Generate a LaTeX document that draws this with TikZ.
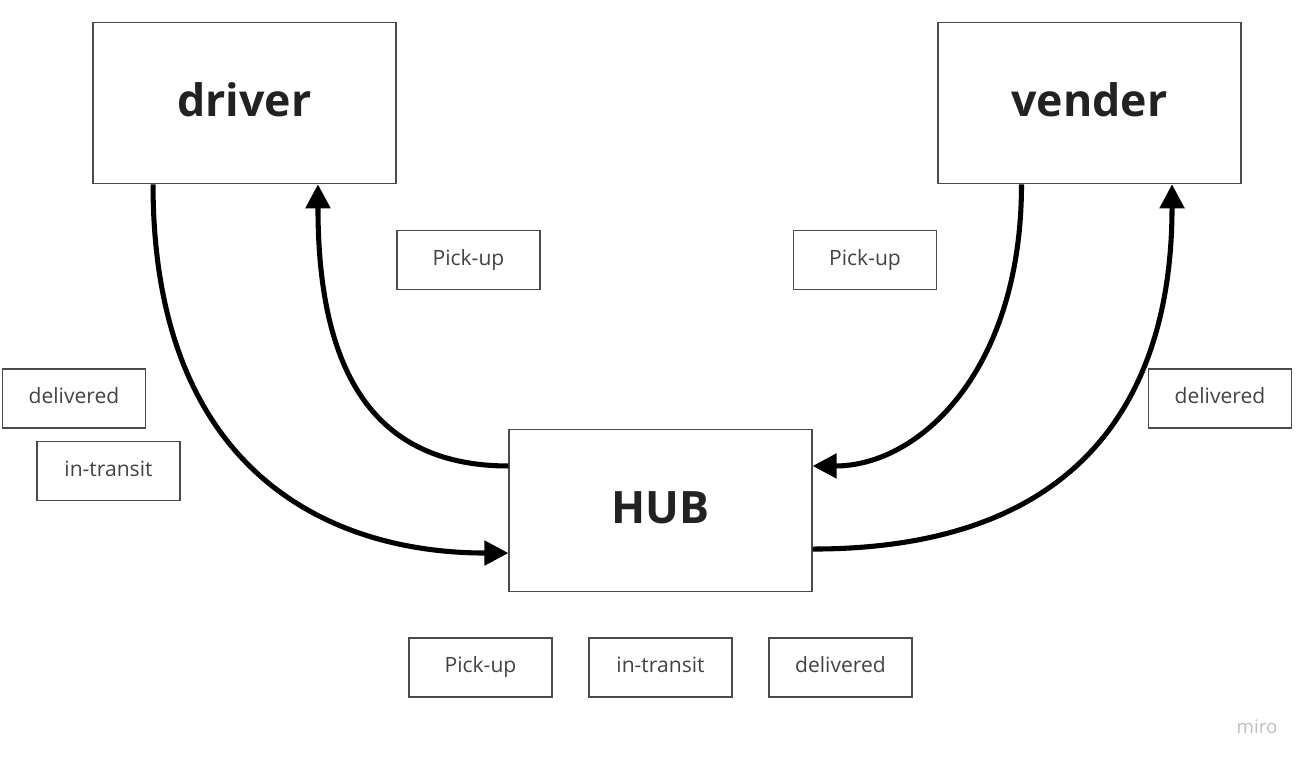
\documentclass[tikz,border=0pt]{standalone}
\usepackage{fontspec}
\setmainfont{Open Sans}
\usetikzlibrary{arrows.meta}
\definecolor{boxline}{HTML}{4A4A4A}
\definecolor{ink}{HTML}{222222}
\tikzset{
  bigbox/.style={draw=boxline, line width=0.9pt, minimum width=227.25pt, minimum height=121pt,
                 inner sep=0pt, text depth=4.5pt, font=\fontsize{33.5}{38}\selectfont\bfseries, text=ink},
  statebox/.style={draw=boxline, line width=0.8pt, minimum width=107.25pt, minimum height=44.25pt,
                   inner sep=0pt, text height=11.5pt, text depth=4pt,
                   font=\fontsize{15.8}{18}\selectfont, text=ink!85},
  flow/.style={line width=3.8pt, -{Triangle[length=18pt,width=18pt]}}
}
\begin{document}
\begin{tikzpicture}[x=0.75pt, y=-0.75pt]
    \useasboundingbox (0,0) rectangle (1307,764);
    % main boxes
    \node[bigbox] (driver) at (244.5,103) {driver};
    \node[bigbox] (vender) at (1089.5,103) {vender};
    \node[bigbox] (hub) at (660.5,510.5) {HUB};

    % state labels
    \node[statebox] (drvpick) at (468.5,260) {Pick-up};
    \node[statebox] (vndpick) at (865,260) {Pick-up};
    \node[statebox] (drvdel) at (74,398.5) {delivered};
    \node[statebox] (drvtran) at (108.5,471) {in-transit};
    \node[statebox] (vnddel) at (1220,398.5) {delivered};
    \node[statebox] (hubpick) at (480.5,667.5) {Pick-up};
    \node[statebox] (hubtran) at (660.5,667.5) {in-transit};
    \node[statebox] (hubdel) at (840.5,667.5) {delivered};

    % flows
    \draw[flow] ([xshift=-68.6pt]driver.south) .. controls +(0,-215pt) and +(-135pt,0) .. ([yshift=-31.9pt]hub.west);
    \draw[flow] ([yshift=33.4pt]hub.west) .. controls +(-105pt,0) and +(0,-135pt) .. ([xshift=55.1pt]driver.south);
    \draw[flow] ([xshift=-51pt]vender.south) .. controls +(0,-140pt) and +(80pt,0) .. ([yshift=33.4pt]hub.east);
    \draw[flow] ([yshift=-28.9pt]hub.east) .. controls +(210pt,0) and +(0,-150pt) .. ([xshift=61.9pt]vender.south);

    \node[text=black!25, font=\fontsize{14}{16}\selectfont] (miro) at (1257,727) {miro};
\end{tikzpicture}
\end{document}
